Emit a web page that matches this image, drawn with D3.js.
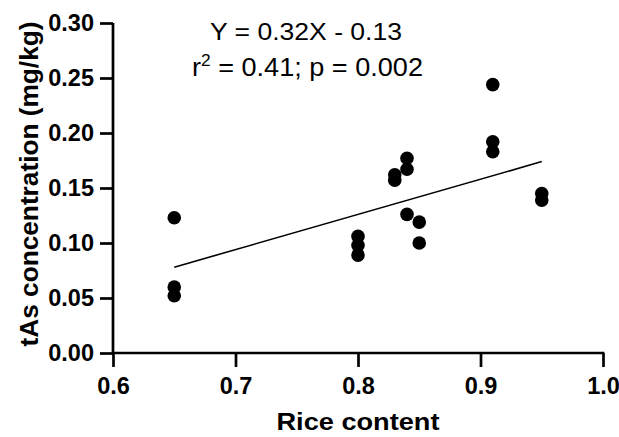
<!DOCTYPE html>
<html><head><meta charset="utf-8">
<script src="https://cdn.jsdelivr.net/npm/d3@7"></script>
<style>body{margin:0;background:#fff}svg{display:block}text{font-family:"Liberation Sans",Arial,sans-serif;fill:#000}</style>
</head><body><svg id="c" width="619" height="437"></svg>
<script>
const riceContent = [0.65,0.65,0.65, 0.80,0.80,0.80, 0.83,0.83, 0.84,0.84,0.84, 0.85,0.85, 0.91,0.91,0.91, 0.95,0.95];
const tAs         = [0.123,0.060,0.052, 0.106,0.098,0.089, 0.162,0.157, 0.177,0.167,0.126, 0.119,0.100, 0.244,0.192,0.183, 0.145,0.139];
const xTicks = [0.6,0.7,0.8,0.9,1.0];
const yTicks = [0.00,0.05,0.10,0.15,0.20,0.25,0.30];
const slope = 0.32, intercept = -0.13;
const fitRange = [0.65, 0.95];

const svg = d3.select("#c");
const x = d3.scaleLinear().domain([0.6,1.0]).range([113,603]);
const y = d3.scaleLinear().domain([0,0.30]).range([353,23]);

const xAxis = svg.append("g").attr("transform","translate(0,353)")
  .call(d3.axisBottom(x).tickValues(xTicks).tickFormat(d3.format(".1f")).tickSize(14).tickPadding(10).tickSizeOuter(0));
const yAxis = svg.append("g").attr("transform","translate(113,0)")
  .call(d3.axisLeft(y).tickValues(yTicks).tickFormat(d3.format(".2f")).tickSize(13).tickPadding(6).tickSizeOuter(0));
[xAxis,yAxis].forEach(g=>{
  g.selectAll("path,line").attr("stroke","#000").attr("stroke-width",2.7);
  g.selectAll("text").attr("font-size",23.5).attr("font-weight","bold").attr("fill","#000");
});
xAxis.select(".domain").attr("d","M111.65,0H604.35");
yAxis.select(".domain").attr("d","M0,23V354.35");

svg.append("line")
  .attr("x1",x(fitRange[0])).attr("y1",y(slope*fitRange[0]+intercept))
  .attr("x2",x(fitRange[1])).attr("y2",y(slope*fitRange[1]+intercept))
  .attr("stroke","#000").attr("stroke-width",1.6);

svg.append("g").selectAll("circle").data(riceContent).join("circle")
  .attr("cx",(d)=>x(d)).attr("cy",(d,i)=>y(tAs[i])).attr("r",6.8).attr("fill","#000");

svg.append("text").attr("x",306).attr("y",40).attr("text-anchor","middle")
  .attr("font-size",24).attr("textLength",192).attr("lengthAdjust","spacingAndGlyphs")
  .text("Y = 0.32X - 0.13");
const t2 = svg.append("text").attr("x",192).attr("y",76).attr("font-size",25)
  .attr("textLength",231).attr("lengthAdjust","spacingAndGlyphs");
t2.append("tspan").text("r");
t2.append("tspan").attr("font-size",16).attr("dy",-10).text("2");
t2.append("tspan").attr("dy",10).text(" = 0.41; p = 0.002");

svg.append("text").attr("x",358).attr("y",430).attr("text-anchor","middle")
  .attr("font-size",23).attr("font-weight","bold").attr("textLength",163).attr("lengthAdjust","spacingAndGlyphs")
  .text("Rice content");
svg.append("text").attr("transform","translate(38,184) rotate(-90)").attr("text-anchor","middle")
  .attr("font-size",26).attr("font-weight","bold").attr("textLength",325).attr("lengthAdjust","spacingAndGlyphs")
  .text("tAs concentration (mg/kg)");
</script></body></html>
